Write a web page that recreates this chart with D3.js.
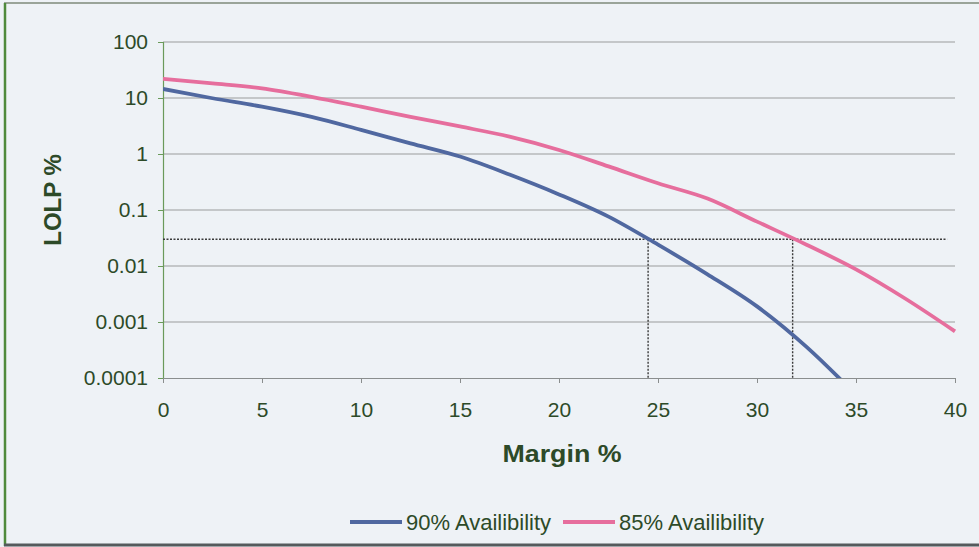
<!DOCTYPE html>
<html>
<head>
<meta charset="utf-8">
<script src="https://cdn.jsdelivr.net/npm/d3@7"></script>
<style>
  html, body { margin: 0; padding: 0; background: #fff; }
  svg { display: block; font-family: "Liberation Sans", Arial, sans-serif; }
</style>
</head>
<body>
<div id="chart"></div>
<script>
// margin % sampled every 2.5
const margins = [0, 2.5, 5, 7.5, 10, 12.5, 15, 17.5, 20, 22.5, 25, 27.5, 30, 32.5, 35, 37.5, 40];
// LOLP %
const lolp90 = [14.5, 9.9, 7.0, 4.6, 2.7, 1.55, 0.9, 0.43, 0.19, 0.076, 0.024, 0.0071, 0.0019, 0.00036, 0.00005, null, null];
const lolp85 = [22, 18.3, 14.9, 10.5, 7.0, 4.6, 3.1, 2.04, 1.18, 0.6, 0.3, 0.16, 0.062, 0.024, 0.0087, 0.0026, 0.00068];
const seriesNames = ['90% Availibility', '85% Availibility'];
const yTicks = [100, 10, 1, 0.1, 0.01, 0.001, 0.0001];
const xTicks = [0, 5, 10, 15, 20, 25, 30, 35, 40];
// target LOLP and the margins where each curve crosses it
const refLevel = 0.03;
const refMargins = [24.5, 31.8];
const refEnd = 39.6;

const W = 979, H = 547;
const plot = { left: 163, right: 955, top: 42, bottom: 378 };
const colors = ['#5068a0', '#e66e9d'];
const textCol = '#2d4a28';
const font = '"Liberation Sans", Arial, sans-serif';

const svg = d3.select('#chart').append('svg')
    .attr('width', W).attr('height', H);

// background + frame
svg.append('rect').attr('x', 0).attr('y', 0).attr('width', W).attr('height', H)
    .attr('fill', '#eef2f6');
svg.append('line').attr('x1', 4).attr('x2', W).attr('y1', 3).attr('y2', 3)
    .attr('stroke', '#7e8a7a').attr('stroke-width', 1.5);
svg.append('line').attr('x1', 5).attr('x2', 5).attr('y1', 3).attr('y2', 546)
    .attr('stroke', '#4f8a3c').attr('stroke-width', 2.5);
svg.append('line').attr('x1', 4).attr('x2', W).attr('y1', 545).attr('y2', 545)
    .attr('stroke', '#555a5c').attr('stroke-width', 3);

const x = d3.scaleLinear().domain([0, 40]).range([plot.left, plot.right]);
const y = d3.scaleLog().domain([0.0001, 100]).range([plot.bottom, plot.top]);

// gridlines
svg.append('g').selectAll('line').data(yTicks.filter(d => d > 0.0001)).enter()
    .append('line')
    .attr('x1', plot.left).attr('x2', plot.right)
    .attr('y1', d => y(d)).attr('y2', d => y(d))
    .attr('stroke', '#9a9c9c').attr('stroke-width', 1.2);

// y axis
const yAxis = svg.append('g').attr('transform', `translate(${plot.left},0)`)
    .call(d3.axisLeft(y).tickValues(yTicks).tickFormat(d => String(d)).tickSize(5).tickPadding(10));
yAxis.select('.domain').attr('stroke', '#6a9a5a').attr('stroke-width', 1.2);
yAxis.selectAll('.tick line').attr('stroke', '#6a9a5a');
yAxis.selectAll('text').attr('fill', textCol).attr('font-size', 21).attr('font-family', font);

// x axis
const xAxis = svg.append('g').attr('transform', `translate(0,${plot.bottom})`)
    .call(d3.axisBottom(x).tickValues(xTicks).tickSize(5).tickSizeOuter(0));
xAxis.select('.domain').attr('stroke', '#8a8e8e').attr('stroke-width', 1.2);
xAxis.selectAll('.tick line').attr('stroke', '#8a8e8e');
xAxis.selectAll('text').attr('fill', textCol).attr('font-size', 21).attr('font-family', font)
    .attr('y', 39).attr('dy', 0);

// reference dotted lines
const ref = svg.append('g').attr('stroke', '#3a3a3a').attr('stroke-width', 1.4)
    .attr('stroke-dasharray', '2,1.5').attr('fill', 'none');
ref.append('line').attr('x1', x(0)).attr('x2', x(refEnd))
    .attr('y1', y(refLevel)).attr('y2', y(refLevel));
ref.selectAll('line.v').data(refMargins).enter().append('line').attr('class', 'v')
    .attr('x1', d => x(d)).attr('x2', d => x(d))
    .attr('y1', y(refLevel)).attr('y2', y(0.0001));

// clip for the curves
svg.append('clipPath').attr('id', 'clip').append('rect')
    .attr('x', plot.left).attr('y', plot.top - 5)
    .attr('width', plot.right - plot.left + 5).attr('height', plot.bottom - plot.top + 5);

const line = d3.line()
    .defined(d => d[1] != null)
    .x(d => x(d[0])).y(d => y(d[1]))
    .curve(d3.curveMonotoneX);

[lolp90, lolp85].forEach((vals, i) => {
    svg.append('path')
        .datum(margins.map((m, j) => [m, vals[j]]))
        .attr('clip-path', 'url(#clip)')
        .attr('d', line)
        .attr('fill', 'none')
        .attr('stroke', colors[i])
        .attr('stroke-width', 3.8)
        .attr('stroke-linejoin', 'round');
});

// axis titles
svg.append('text').attr('x', 562).attr('y', 462).attr('text-anchor', 'middle')
    .attr('font-size', 24).attr('font-weight', 'bold').attr('fill', textCol)
    .attr('textLength', 119).attr('lengthAdjust', 'spacingAndGlyphs')
    .text('Margin %');
svg.append('text').attr('transform', 'translate(61,200) rotate(-90)')
    .attr('text-anchor', 'middle')
    .attr('font-size', 24).attr('font-weight', 'bold').attr('fill', textCol)
    .text('LOLP %');

// legend
const legend = svg.append('g').attr('transform', 'translate(350,522)');
const legX = [0, 213];
seriesNames.forEach((name, i) => {
    const g = legend.append('g').attr('transform', `translate(${legX[i]},0)`);
    g.append('line').attr('x1', 0).attr('x2', 52).attr('y1', 0).attr('y2', 0)
        .attr('stroke', colors[i]).attr('stroke-width', 3.8);
    g.append('text').attr('x', 56).attr('y', 8).attr('font-size', 22)
        .attr('fill', textCol).text(name);
});
</script>
</body>
</html>
